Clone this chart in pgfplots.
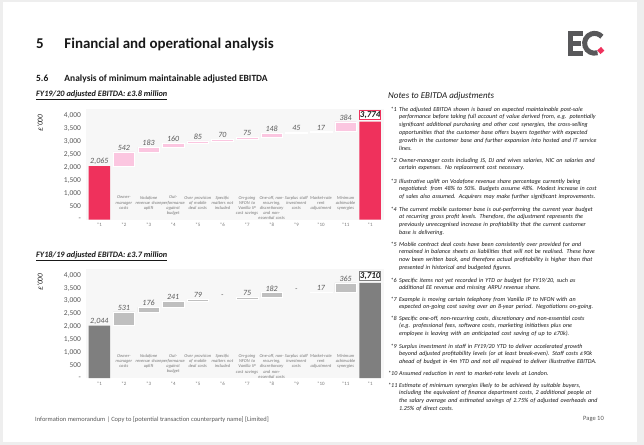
\documentclass[border=0pt]{standalone}
\usepackage{fontspec}
\setmainfont{Carlito}
\usepackage{pgfplots}
\pgfplotsset{compat=1.18}

\definecolor{ecred}{RGB}{239,49,92}
\definecolor{ecpink}{RGB}{251,198,224}
\definecolor{darkbar}{RGB}{127,127,127}
\definecolor{lightbar}{RGB}{191,191,191}
\definecolor{plotbg}{RGB}{247,247,247}
\definecolor{pagebg}{RGB}{238,238,238}
\definecolor{txtgray}{RGB}{89,89,89}
\definecolor{lblgray}{RGB}{120,120,120}
\definecolor{logogray}{RGB}{88,88,90}
\definecolor{ink}{RGB}{25,25,25}

\newcommand\fs[2]{\fontsize{#1}{#2}\selectfont}
\newcommand\nf{\fontsize{6.1}{7.9}\selectfont\itshape\color{ink}}
% boxed total label on the last bar
\newcommand\finalbox[2]{{\setlength\fboxsep{0pt}\setlength\fboxrule{0.9bp}%
  \fcolorbox{#2}{white}{\makebox[19.8bp]{\rule[-2.2bp]{0pt}{8.6bp}\fs{9}{10}\bfseries\itshape\color{ink}#1}}}}

\pgfplotsset{
  wfall/.style={
    scale only axis, width=297.5bp,
    ybar stacked, bar width=21.5bp,
    xmin=0.46, xmax=12.54, ymin=0, ymax=4265,
    axis background/.style={fill=plotbg},
    axis line style={draw=none},
    major tick length=0pt, clip=false,
    ytick={0,500,...,4000},
    yticklabels={{-},500,{1,000},{1,500},{2,000},{2,500},{3,000},{3,500},{4,000}},
    yticklabel style={font=\fs{7.5}{9}, text=txtgray, xshift=-1.5bp},
    xtick={1,...,12},
    xticklabels={*1,*2,*3,*4,*5,*6,*7,*8,*9,*10,*11,*1},
    xticklabel style={font=\fs{5}{6}, text=lblgray},
    extra x ticks={1,...,12},
    extra x tick style={xticklabel style={yshift=27bp, anchor=north, text width=27bp,
      align=center, font=\fs{4.5}{5.2}\itshape, text=lblgray}},
    /pgf/number format/assume math mode=true,
  },
  % value labels: stacked bars put them mid-segment, so lift them by half the bar
  vlab/.style={nodes near coords, point meta=explicit symbolic,
    visualization depends on=rawy \as \rawy,
    every node near coord/.append style={font=\fs{8}{9}\itshape, text=txtgray,
      inner sep=1.2bp, anchor=south, yshift={\rawy*#1}}},
}

\begin{document}
\begin{tikzpicture}
\path[use as bounding box] (0,0) rectangle (644bp,-445bp);
\begin{scope}[x=1bp,y=-1bp]
\fill[pagebg] (0,0) rectangle (644,445);
\fill[white] (3,2) rectangle (637,442);

% headings
\node[anchor=base west, inner sep=0, font=\fs{15}{18}\bfseries, text=ink] at (36,48.3) {5};
\node[anchor=base west, inner sep=0, font=\fs{15}{18}\bfseries, text=ink] at (64.3,48.3) {Financial and operational analysis};
\node[anchor=base west, inner sep=0, font=\fs{9.5}{11}\bfseries, text=ink] at (36,81.7) {5.6};
\node[anchor=base west, inner sep=0, font=\fs{9.5}{11}\bfseries, text=ink] at (64.3,81.7) {Analysis of minimum maintainable adjusted EBITDA};
\node[anchor=base west, inner sep=0, font=\fs{8.3}{10}\bfseries\itshape, text=ink] at (36,96.7) {\underline{FY19/20 adjusted EBITDA: £3.8 million}};
\node[anchor=base west, inner sep=0, font=\fs{8.3}{10}\bfseries\itshape, text=ink] at (36,257.3) {\underline{FY18/19 adjusted EBITDA: £3.7 million}};
\node[rotate=90, inner sep=0, font=\fs{7.5}{9}\itshape, text=ink] at (40,123) {£'000};
\node[rotate=90, inner sep=0, font=\fs{7.5}{9}\itshape, text=ink] at (40,282) {£'000};

% logo
\fill[logogray] (568,31) rectangle (583,35.5);
\fill[logogray] (568,31) rectangle (572.5,55.7);
\fill[logogray] (568,41.2) rectangle (581,45.6);
\fill[logogray] (568,51.2) rectangle (583,55.7);
\draw[logogray, line width=5bp] (594.5,43.3) ++(72:9.9) arc[start angle=72, end angle=318, radius=9.9];
\draw[ecred, line width=5bp] (594.5,43.3) ++(34:9.9) arc[start angle=34, end angle=64, radius=9.9];

% notes
\node[anchor=base west, inner sep=0, font=\fs{9}{11}\itshape, text=ink] at (388,98.3) {Notes to EBITDA adjustments};
\foreach \m/\yy/\xx in {*1/111/390.5,*2/162/390.5,*3/183/390.5,*4/211/390.5,*5/246/390.5,
  *6/282/390.5,*7/301/390.5,*8/320/390.5,*9/348/390.5,*10/375/388,*11/387/388}
  \node[anchor=base west, inner sep=0, font=\nf] at (\xx,\yy) {\m};
\node[anchor=base west, inner sep=0, text width=232bp, align=left, font=\nf] at (399,111)
 {The adjusted EBITDA shown is based on expected maintainable post-sale\\
  performance before taking full account of value derived from, e.g. potentially\\
  significant additional purchasing and other cost synergies, the cross-selling\\
  opportunities that the customer base offers buyers together with expected\\
  growth in the customer base and further expansion into hosted and IT service\\
  lines.};
\node[anchor=base west, inner sep=0, text width=232bp, align=left, font=\nf] at (399,162)
 {Owner-manager costs including JS, DJ and wives salaries, NIC on salaries and\\
  certain expenses. No replacement cost necessary.};
\node[anchor=base west, inner sep=0, text width=232bp, align=left, font=\nf] at (399,183)
 {Illustrative uplift on Vodafone revenue share percentage currently being\\
  negotiated: from 48\% to 50\%. Budgets assume 48\%. Modest increase in cost\\
  of sales also assumed. Acquirers may make further significant improvements.};
\node[anchor=base west, inner sep=0, text width=232bp, align=left, font=\nf] at (399,211)
 {The current mobile customer base is out-performing the current year budget\\
  at recurring gross profit levels. Therefore, the adjustment represents the\\
  previously unrecognised increase in profitability that the current customer\\
  base is delivering.};
\node[anchor=base west, inner sep=0, text width=232bp, align=left, font=\nf] at (399,246)
 {Mobile contract deal costs have been consistently over provided for and\\
  remained in balance sheets as liabilities that will not be realised. These have\\
  now been written back, and therefore actual profitability is higher than that\\
  presented in historical and budgeted figures.};
\node[anchor=base west, inner sep=0, text width=232bp, align=left, font=\nf] at (399,282)
 {Specific items not yet recorded in YTD or budget for FY19/20, such as\\
  additional EE revenue and missing ARPU revenue share.};
\node[anchor=base west, inner sep=0, text width=232bp, align=left, font=\nf] at (399,301)
 {Example is moving certain telephony from Vanilla IP to NFON with an\\
  expected on-going cost saving over an 8-year period. Negotiations on-going.};
\node[anchor=base west, inner sep=0, text width=232bp, align=left, font=\nf] at (399,320)
 {Specific one-off, non-recurring costs, discretionary and non-essential costs\\
  (e.g. professional fees, software costs, marketing initiatives plus one\\
  employee is leaving with an anticipated cost saving of up to £70k).};
\node[anchor=base west, inner sep=0, text width=232bp, align=left, font=\nf] at (399,348)
 {Surplus investment in staff in FY19/20 YTD to deliver accelerated growth\\
  beyond adjusted profitability levels (or at least break-even). Staff costs £90k\\
  ahead of budget in 4m YTD and not all required to deliver illustrative EBITDA.};
\node[anchor=base west, inner sep=0, text width=232bp, align=left, font=\nf] at (399,375)
 {Assumed reduction in rent to market-rate levels at London.};
\node[anchor=base west, inner sep=0, text width=232bp, align=left, font=\nf] at (399,387)
 {Estimate of minimum synergies likely to be achieved by suitable buyers,\\
  including the equivalent of finance department costs, 2 additional people at\\
  the salary average and estimated savings of 2.75\% of adjusted overheads and\\
  1.25\% of direct costs.};

% footer
\node[anchor=base west, inner sep=0, font=\fs{6.5}{8}, text=txtgray] at (35,421)
 {Information memorandum | Copy to [potential transaction counterparty name] [Limited]};
\node[anchor=base east, inner sep=0, font=\fs{6.5}{8}, text=txtgray] at (604,420) {Page 10};
\end{scope}

% FY19/20 waterfall
\begin{axis}[wfall, at={(86bp,-219.5bp)}, anchor=south west, height=110.5bp,
  extra x tick labels={
    {\textcolor{white}{FY19/20}\\\textcolor{white}{unadjusted}\\\textcolor{white}{EBITDA}},
    {Owner-\\manager\\costs},
    {Vodafone\\revenue share\\uplift},
    {Out-\\performance\\against\\budget},
    {Over provision\\of mobile\\deal costs},
    {Specific\\matters not\\included},
    {On-going\\NFON to\\Vanilla IP\\cost savings},
    {One-off, non-\\recurring,\\discretionary\\and non-\\essential costs},
    {Surplus staff\\investment\\costs},
    {Market-rate\\rent\\adjustment},
    {Minimum\\achievable\\synergies},
    {\textcolor{white}{FY19/20}\\\textcolor{white}{adjusted}\\\textcolor{white}{EBITDA}}}]
\addplot[fill=none, draw=none] coordinates {
  (1,0) (2,2065) (3,2607) (4,2790) (5,2950) (6,3035)
  (7,3105) (8,3180) (9,3328) (10,3373) (11,3390) (12,0)};
\addplot[fill=ecred, draw=none, vlab=0.012954bp] coordinates {
  (1,2065) [{2,065}] (2,0) [] (3,0) [] (4,0) [] (5,0) [] (6,0) []
  (7,0) [] (8,0) [] (9,0) [] (10,0) [] (11,0) [] (12,3774) [\finalbox{3,774}{ecred}]};
\addplot[fill=ecpink, draw=white, line width=0.4bp, vlab=0.012954bp] coordinates {
  (1,0) [] (2,542) [542] (3,183) [183] (4,160) [160] (5,85) [85] (6,70) [70]
  (7,75) [75] (8,148) [148] (9,45) [45] (10,17) [17] (11,384) [384] (12,0) []};
\end{axis}

% FY18/19 waterfall (zero adjustments *6 and *9 are labelled from the base series)
\begin{axis}[wfall, at={(86bp,-378bp)}, anchor=south west, height=109.5bp,
  extra x tick labels={
    {\textcolor{white}{FY18/19}\\\textcolor{white}{unadjusted}\\\textcolor{white}{EBITDA}},
    {Owner-\\manager\\costs},
    {Vodafone\\revenue share\\uplift},
    {Out-\\performance\\against\\budget},
    {Over provision\\of mobile\\deal costs},
    {Specific\\matters not\\included},
    {On-going\\NFON to\\Vanilla IP\\cost savings},
    {One-off, non-\\recurring,\\discretionary\\and non-\\essential costs},
    {Surplus staff\\investment\\costs},
    {Market-rate\\rent\\adjustment},
    {Minimum\\achievable\\synergies},
    {\textcolor{white}{FY18/19}\\\textcolor{white}{adjusted}\\\textcolor{white}{EBITDA}}}]
\addplot[fill=none, draw=none, vlab=0.012837bp] coordinates {
  (1,0) [] (2,2044) [] (3,2575) [] (4,2751) [] (5,2992) [] (6,3071) [{-}]
  (7,3071) [] (8,3146) [] (9,3328) [{-}] (10,3328) [] (11,3345) [] (12,0) []};
\addplot[fill=darkbar, draw=none, vlab=0.012837bp] coordinates {
  (1,2044) [{2,044}] (2,0) [] (3,0) [] (4,0) [] (5,0) [] (6,0) []
  (7,0) [] (8,0) [] (9,0) [] (10,0) [] (11,0) [] (12,3710) [\finalbox{3,710}{darkbar}]};
\addplot[fill=lightbar, draw=white, line width=0.4bp, vlab=0.012837bp] coordinates {
  (1,0) [] (2,531) [531] (3,176) [176] (4,241) [241] (5,79) [79] (6,0) []
  (7,75) [75] (8,182) [182] (9,0) [] (10,17) [17] (11,365) [365] (12,0) []};
\end{axis}
\end{tikzpicture}
\end{document}
